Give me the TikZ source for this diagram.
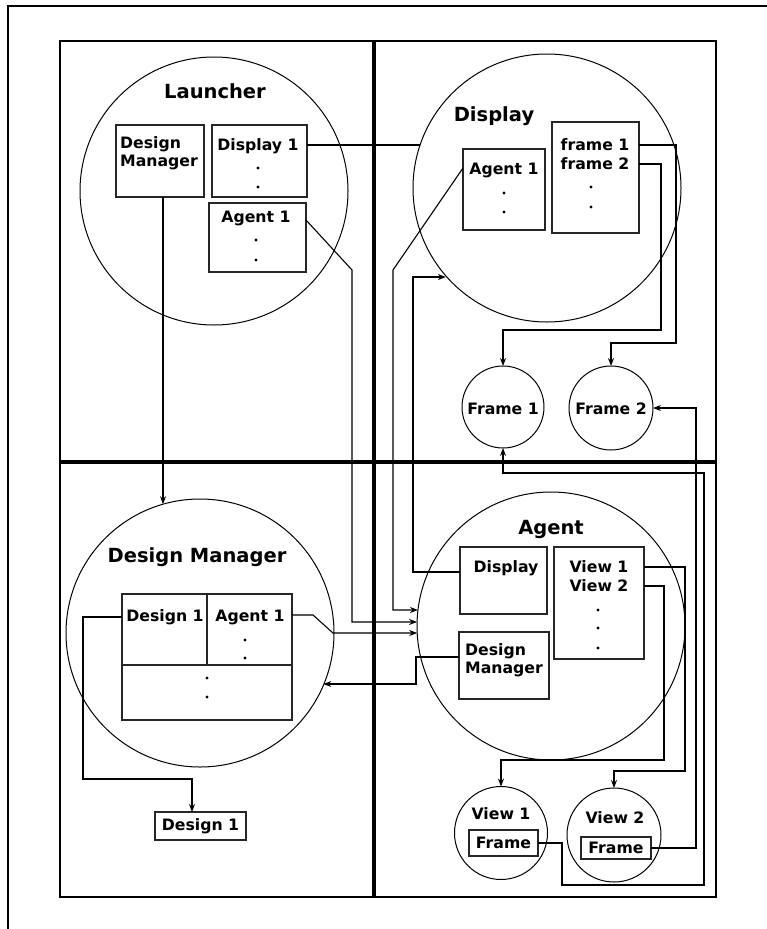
\documentclass[tikz,border=0pt]{standalone}
\usepackage{fontspec}
\setmainfont{DejaVu Sans}
\usetikzlibrary{arrows.meta}
\tikzset{
  circ/.style={draw, circle, inner sep=0pt, outer sep=0pt, line width=1pt},
  box/.style={draw=black!85, rectangle, inner sep=0pt, outer sep=0pt, line width=1.4pt, anchor=north west},
  lbl/.style={font=\fontsize{15.7}{18.5}\selectfont\bfseries, inner sep=0pt},
  ttl/.style={font=\fontsize{19.5}{22}\selectfont\bfseries, inner sep=0pt},
  conn/.style={line width=1.1pt},
  arr/.style={conn, -{Stealth[length=8pt,width=6pt]}},
}
\newcommand{\dotat}[2]{\fill (#1,#2) circle (1.6pt);}
\begin{document}
\begin{tikzpicture}[x=1pt,y=-1pt]
\useasboundingbox (0,0) rectangle (766,929);
% outer frame (partly off page)
\draw[line width=2.2pt] (8,935) -- (8,6) -- (772,6);
% inner frame and dividers
\draw[line width=1.3pt] (60,41) rectangle (716,897);
\draw[line width=3.2pt] (374,41) -- (374,897);
\draw[line width=3.2pt] (60,462) -- (716,462);

% ---------- Launcher ----------
\node[circ, minimum size=268pt] (launcher) at (214,191) {};
\node[ttl] (launcherT) at (215,91) {Launcher};
\node[box, minimum width=88pt, minimum height=72pt] (Ldm) at (116,125) {};
\node[lbl, anchor=north west, align=left] (LdmT) at (120,136) {Design\\Manager};
\node[box, minimum width=95pt, minimum height=72pt] (Ldisp) at (212,125) {};
\node[lbl] (LdispT) at (258,146) {Display 1};
\dotat{258}{168}\dotat{258}{187}
\node[box, minimum width=97pt, minimum height=69pt] (Lag) at (209,203) {};
\node[lbl] (LagT) at (256,218) {Agent 1};
\dotat{256}{240}\dotat{256}{260}

% ---------- Display ----------
\node[circ, minimum size=268pt] (display) at (547,188) {};
\node[ttl] (displayT) at (494,116) {Display};
\node[box, minimum width=82pt, minimum height=81pt] (Dag) at (463,149) {};
\node[lbl] (DagT) at (504,170) {Agent 1};
\dotat{504}{193}\dotat{504}{212}
\node[box, minimum width=87pt, minimum height=111pt] (Dfr) at (552,122) {};
\node[lbl] (Dfr1) at (595,145) {frame 1};
\node[lbl] (Dfr2) at (595,164) {frame 2};
\dotat{591}{187}\dotat{591}{207}

\node[circ, minimum size=82pt] (f1) at (503,407) {};
\node[lbl] (f1T) at (503,409) {Frame 1};
\node[circ, minimum size=84pt] (f2) at (611,408) {};
\node[lbl] (f2T) at (611,409) {Frame 2};

% ---------- Design Manager ----------
\node[circ, minimum size=268pt] (dmc) at (200,633) {};
\node[ttl] (dmcT) at (197,557) {Design Manager};
\node[box, minimum width=85pt, minimum height=71pt] (DMd1) at (122,594) {};
\node[box, minimum width=85pt, minimum height=71pt] (DMa1) at (207,594) {};
\node[box, minimum width=170pt, minimum height=55pt] (DMrest) at (122,665) {};
\node[lbl] (DMd1T) at (165,617) {Design 1};
\node[lbl] (DMa1T) at (250,617) {Agent 1};
\dotat{245}{640}\dotat{245}{658}
\dotat{207}{678}\dotat{207}{697}
\node[box, minimum width=91pt, minimum height=28pt] (d1box) at (155,812) {};
\node[lbl] (d1boxT) at (200.5,826) {Design 1};

% ---------- Agent ----------
\node[circ, minimum size=268pt] (agent) at (551,626) {};
\node[ttl] (agentT) at (551,529) {Agent};
\node[box, minimum width=87pt, minimum height=67pt] (Adisp) at (460,547) {};
\node[lbl] (AdispT) at (506,568) {Display};
\node[box, minimum width=90pt, minimum height=67pt] (Adm) at (459,632) {};
\node[lbl, anchor=north west, align=left] (AdmT) at (465,643) {Design\\Manager};
\node[box, minimum width=90pt, minimum height=112pt] (Aview) at (554,547) {};
\node[lbl] (Av1) at (599,567) {View 1};
\node[lbl] (Av2) at (599,586) {View 2};
\dotat{598}{610}\dotat{598}{628}\dotat{598}{648}

\node[circ, minimum size=93pt] (v1) at (501,833) {};
\node[lbl] (v1T) at (501,814) {View 1};
\node[box, minimum width=69pt, minimum height=26pt] (v1fr) at (469,830) {};
\node[lbl] (v1frT) at (503.5,843) {Frame};
\node[circ, minimum size=94pt] (v2) at (614,835) {};
\node[lbl] (v2T) at (615,818) {View 2};
\node[box, minimum width=70pt, minimum height=22pt] (v2fr) at (581,837) {};
\node[lbl] (v2frT) at (616,848) {Frame};

% ---------- connectors ----------
% Launcher DM -> Design Manager
\coordinate (c1) at ([xshift=3pt]Ldm.south);
\draw[arr] (c1) -- (c1 |- dmc.106);
% Launcher Display 1 -> Display
\coordinate (c2) at ([yshift=-20pt]Ldisp.north east);
\draw[conn] (c2) -- (c2 -| display.161.3);
% Launcher Agent 1 -> Agent
\coordinate (c3) at ([yshift=-17pt]Lag.north east);
\draw[arr] (c3) -- (352,270) -- (352,622) -- (352,622 -| agent.178.3);
% Display Agent 1 -> Agent
\coordinate (c4) at ([yshift=-19pt]Dag.north west);
\draw[arr] (c4) -- (393,270) -- (393,610) -- (393,610 -| agent.173.1);
% Agent Display -> Display
\coordinate (c5) at ([yshift=-25pt]Adisp.north west);
\draw[arr] (c5) -- (413,572) -- (413,277) -- (413,277 -| display.221.6);
% DM Agent 1 -> Agent
\coordinate (c6) at ([yshift=-21pt]DMa1.north east);
\draw[arr] (c6) -- (313,615) -- (333,633) -- (333,633 -| agent.183);
% Agent Design Manager -> Design Manager
\coordinate (c7) at ([yshift=-25pt]Adm.north west);
\draw[arr] (c7) -- (416,657) -- (416,684) -- (416,684 -| dmc.337.6);
% DM Design 1 -> Design 1 box
\coordinate (c8) at ([yshift=-23pt]DMd1.north west);
\coordinate (c8b) at (192,779);
\draw[arr] (c8) -- (83,617) -- (83,779) -- (c8b) -- (c8b |- d1box.north);
% frame 1 -> Frame 2
\coordinate (c9) at ([yshift=-23pt]Dfr.north east);
\draw[arr] (c9) -- (676,145) -- (676,343) -| (f2.north);
% frame 2 -> Frame 1
\coordinate (c10) at ([yshift=-42pt]Dfr.north east);
\draw[arr] (c10) -- (661,164) -- (661,330) -| (f1.north);
% View 2 Frame -> Frame 2
\draw[arr] (v2fr.east) -- (696,848) |- (f2.east);
% View 1 Frame -> Frame 1
\draw[arr] (v1fr.east) -| (562,885) -| (704,473) -| (f1.south);
% View 1 -> View 2 circle
\coordinate (c13) at ([yshift=-20pt]Aview.north east);
\draw[arr] (c13) -- (685,567) -- (685,771) -| (v2.north);
% View 2 -> View 1 circle
\coordinate (c14) at ([yshift=-39pt]Aview.north east);
\draw[arr] (c14) -- (664,586) -- (664,760) -| (v1.north);
\end{tikzpicture}
\end{document}
